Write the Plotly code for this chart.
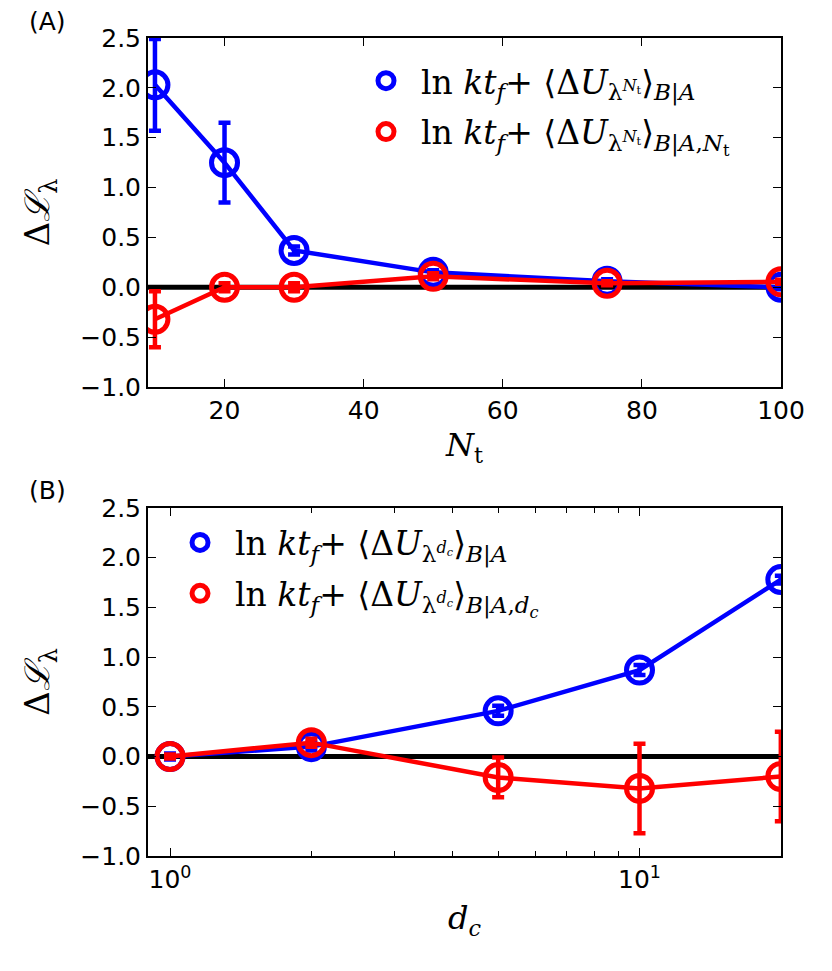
import plotly.graph_objects as go

# Panel A data: vs number of time slices N_t
nt = [10, 20, 30, 50, 75, 100]
a_blue = [2.03, 1.25, 0.37, 0.15, 0.06, 0.0]
a_blue_err = [0.46, 0.40, 0.04, 0.02, 0.02, 0.02]
a_red = [-0.32, 0.0, 0.0, 0.11, 0.04, 0.055]
a_red_err = [0.28, 0.04, 0.04, 0.03, 0.02, 0.02]

# Panel B data: vs d_c (log axis)
dc = [1, 2, 5, 10, 20]
b_blue = [0.0, 0.10, 0.46, 0.87, 1.78]
b_blue_err = [0.03, 0.04, 0.05, 0.05, 0.04]
b_red = [0.0, 0.14, -0.21, -0.32, -0.20]
b_red_err = [0.02, 0.04, 0.20, 0.45, 0.45]

nt_tickvals = [20, 40, 60, 80, 100]
dc_tickvals = [1, 10]
dc_ticktext = ["10<sup>0</sup>", "10<sup>1</sup>"]
dc_minor = [2, 3, 4, 5, 6, 7, 8, 9, 20]

BLUE = "#0000ff"
RED = "#ff0000"
SERIF = "DejaVu Serif, Liberation Serif, serif"
SANS = "DejaVu Sans, sans-serif"

lab_a1 = ("ln <i>kt</i><sub><i>f</i></sub>+ ⟨Δ<i>U</i><sub>λ<sup><i>N</i><sub>t</sub></sup></sub>⟩"
          "<sub><i>B</i>|<i>A</i></sub>")
lab_a2 = ("ln <i>kt</i><sub><i>f</i></sub>+ ⟨Δ<i>U</i><sub>λ<sup><i>N</i><sub>t</sub></sup></sub>⟩"
          "<sub><i>B</i>|<i>A</i>,<i>N</i><sub>t</sub></sub>")
lab_b1 = ("ln <i>kt</i><sub><i>f</i></sub>+ ⟨Δ<i>U</i><sub>λ<sup><i>d<sub>c</sub></i></sup></sub>⟩"
          "<sub><i>B</i>|<i>A</i></sub>")
lab_b2 = ("ln <i>kt</i><sub><i>f</i></sub>+ ⟨Δ<i>U</i><sub>λ<sup><i>d<sub>c</sub></i></sup></sub>⟩"
          "<sub><i>B</i>|<i>A</i>,<i>d<sub>c</sub></i></sub>")

fig = go.Figure()


def add_series(x, y, err, color, xa, ya, name, legend, group):
    # line + open circles + error bars
    fig.add_trace(go.Scatter(
        x=x, y=y, xaxis=xa, yaxis=ya, mode="lines+markers",
        line=dict(color=color, width=4.5),
        marker=dict(symbol="circle-open", size=26, color=color, line=dict(width=5)),
        error_y=dict(type="data", array=err, color=color, thickness=4.5, width=6),
        showlegend=False, hoverinfo="skip",
    ))
    # legend-only entry (marker only, like the matplotlib legend)
    fig.add_trace(go.Scatter(
        x=[None], y=[None], xaxis=xa, yaxis=ya, mode="markers",
        marker=dict(symbol="circle-open", size=26, color=color, line=dict(width=5)),
        name=name, legend=legend, legendgroup=group,
    ))


add_series(nt, a_blue, a_blue_err, BLUE, "x", "y", lab_a1, "legend", "a1")
add_series(nt, a_red, a_red_err, RED, "x", "y", lab_a2, "legend", "a2")
add_series(dc, b_blue, b_blue_err, BLUE, "x2", "y2", lab_b1, "legend2", "b1")
add_series(dc, b_red, b_red_err, RED, "x2", "y2", lab_b2, "legend2", "b2")

# black zero lines
for xr, yr in [("x domain", "y"), ("x2 domain", "y2")]:
    fig.add_shape(type="line", xref=xr, yref=yr, x0=0, x1=1, y0=0, y1=0,
                  line=dict(color="black", width=5), layer="below")

axis_common = dict(
    showline=True, linecolor="black", linewidth=2, mirror="ticks",
    ticks="inside", ticklen=8, tickwidth=1, tickcolor="black",
    showgrid=False, zeroline=False,
    tickfont=dict(family=SANS, size=25, color="black"),
)

yaxis_common = dict(axis_common, range=[-1, 2.5], dtick=0.5, tickformat=".1f",
                    title=dict(text="Δ<i>ℒ</i><sub>λ</sub>",
                               font=dict(family=SERIF, size=34, color="black"),
                               standoff=20))

legend_common = dict(xanchor="left", yanchor="top", itemwidth=60,
                     font=dict(family=SERIF, size=33, color="black"),
                     bgcolor="rgba(0,0,0,0)", tracegroupgap=5)

fig.update_layout(
    width=824, height=963,
    margin=dict(l=140, r=51, t=30, b=115),
    plot_bgcolor="white", paper_bgcolor="white",
    xaxis=dict(axis_common, domain=[0, 1], anchor="y", range=[9, 100],
               tickvals=nt_tickvals,
               title=dict(text="<i>N</i><sub>t</sub>",
                          font=dict(family=SERIF, size=32, color="black"), standoff=10)),
    yaxis=dict(yaxis_common, domain=[0.5733, 1], anchor="x"),
    xaxis2=dict(axis_common, domain=[0, 1], anchor="y2", type="log",
                range=[-0.0469, 1.3014],
                tickvals=dc_tickvals, ticktext=dc_ticktext,
                minor=dict(tickvals=dc_minor, ticks="inside", ticklen=5,
                           tickcolor="black", showgrid=False),
                title=dict(text="<i>d<sub>c</sub></i>",
                           font=dict(family=SERIF, size=32, color="black"), standoff=14)),
    yaxis2=dict(yaxis_common, domain=[0, 0.4254], anchor="x2"),
    legend=dict(legend_common, x=0.3207, y=0.982),
    legend2=dict(legend_common, x=0.0269, y=0.4175),
    annotations=[
        dict(text="(A)", xref="paper", yref="paper", x=-0.191, y=1.0205,
             xanchor="left", yanchor="middle", showarrow=False,
             font=dict(family=SANS, size=25, color="black")),
        dict(text="(B)", xref="paper", yref="paper", x=-0.191, y=0.4474,
             xanchor="left", yanchor="middle", showarrow=False,
             font=dict(family=SANS, size=25, color="black")),
    ],
)

fig.write_html("out.html")
